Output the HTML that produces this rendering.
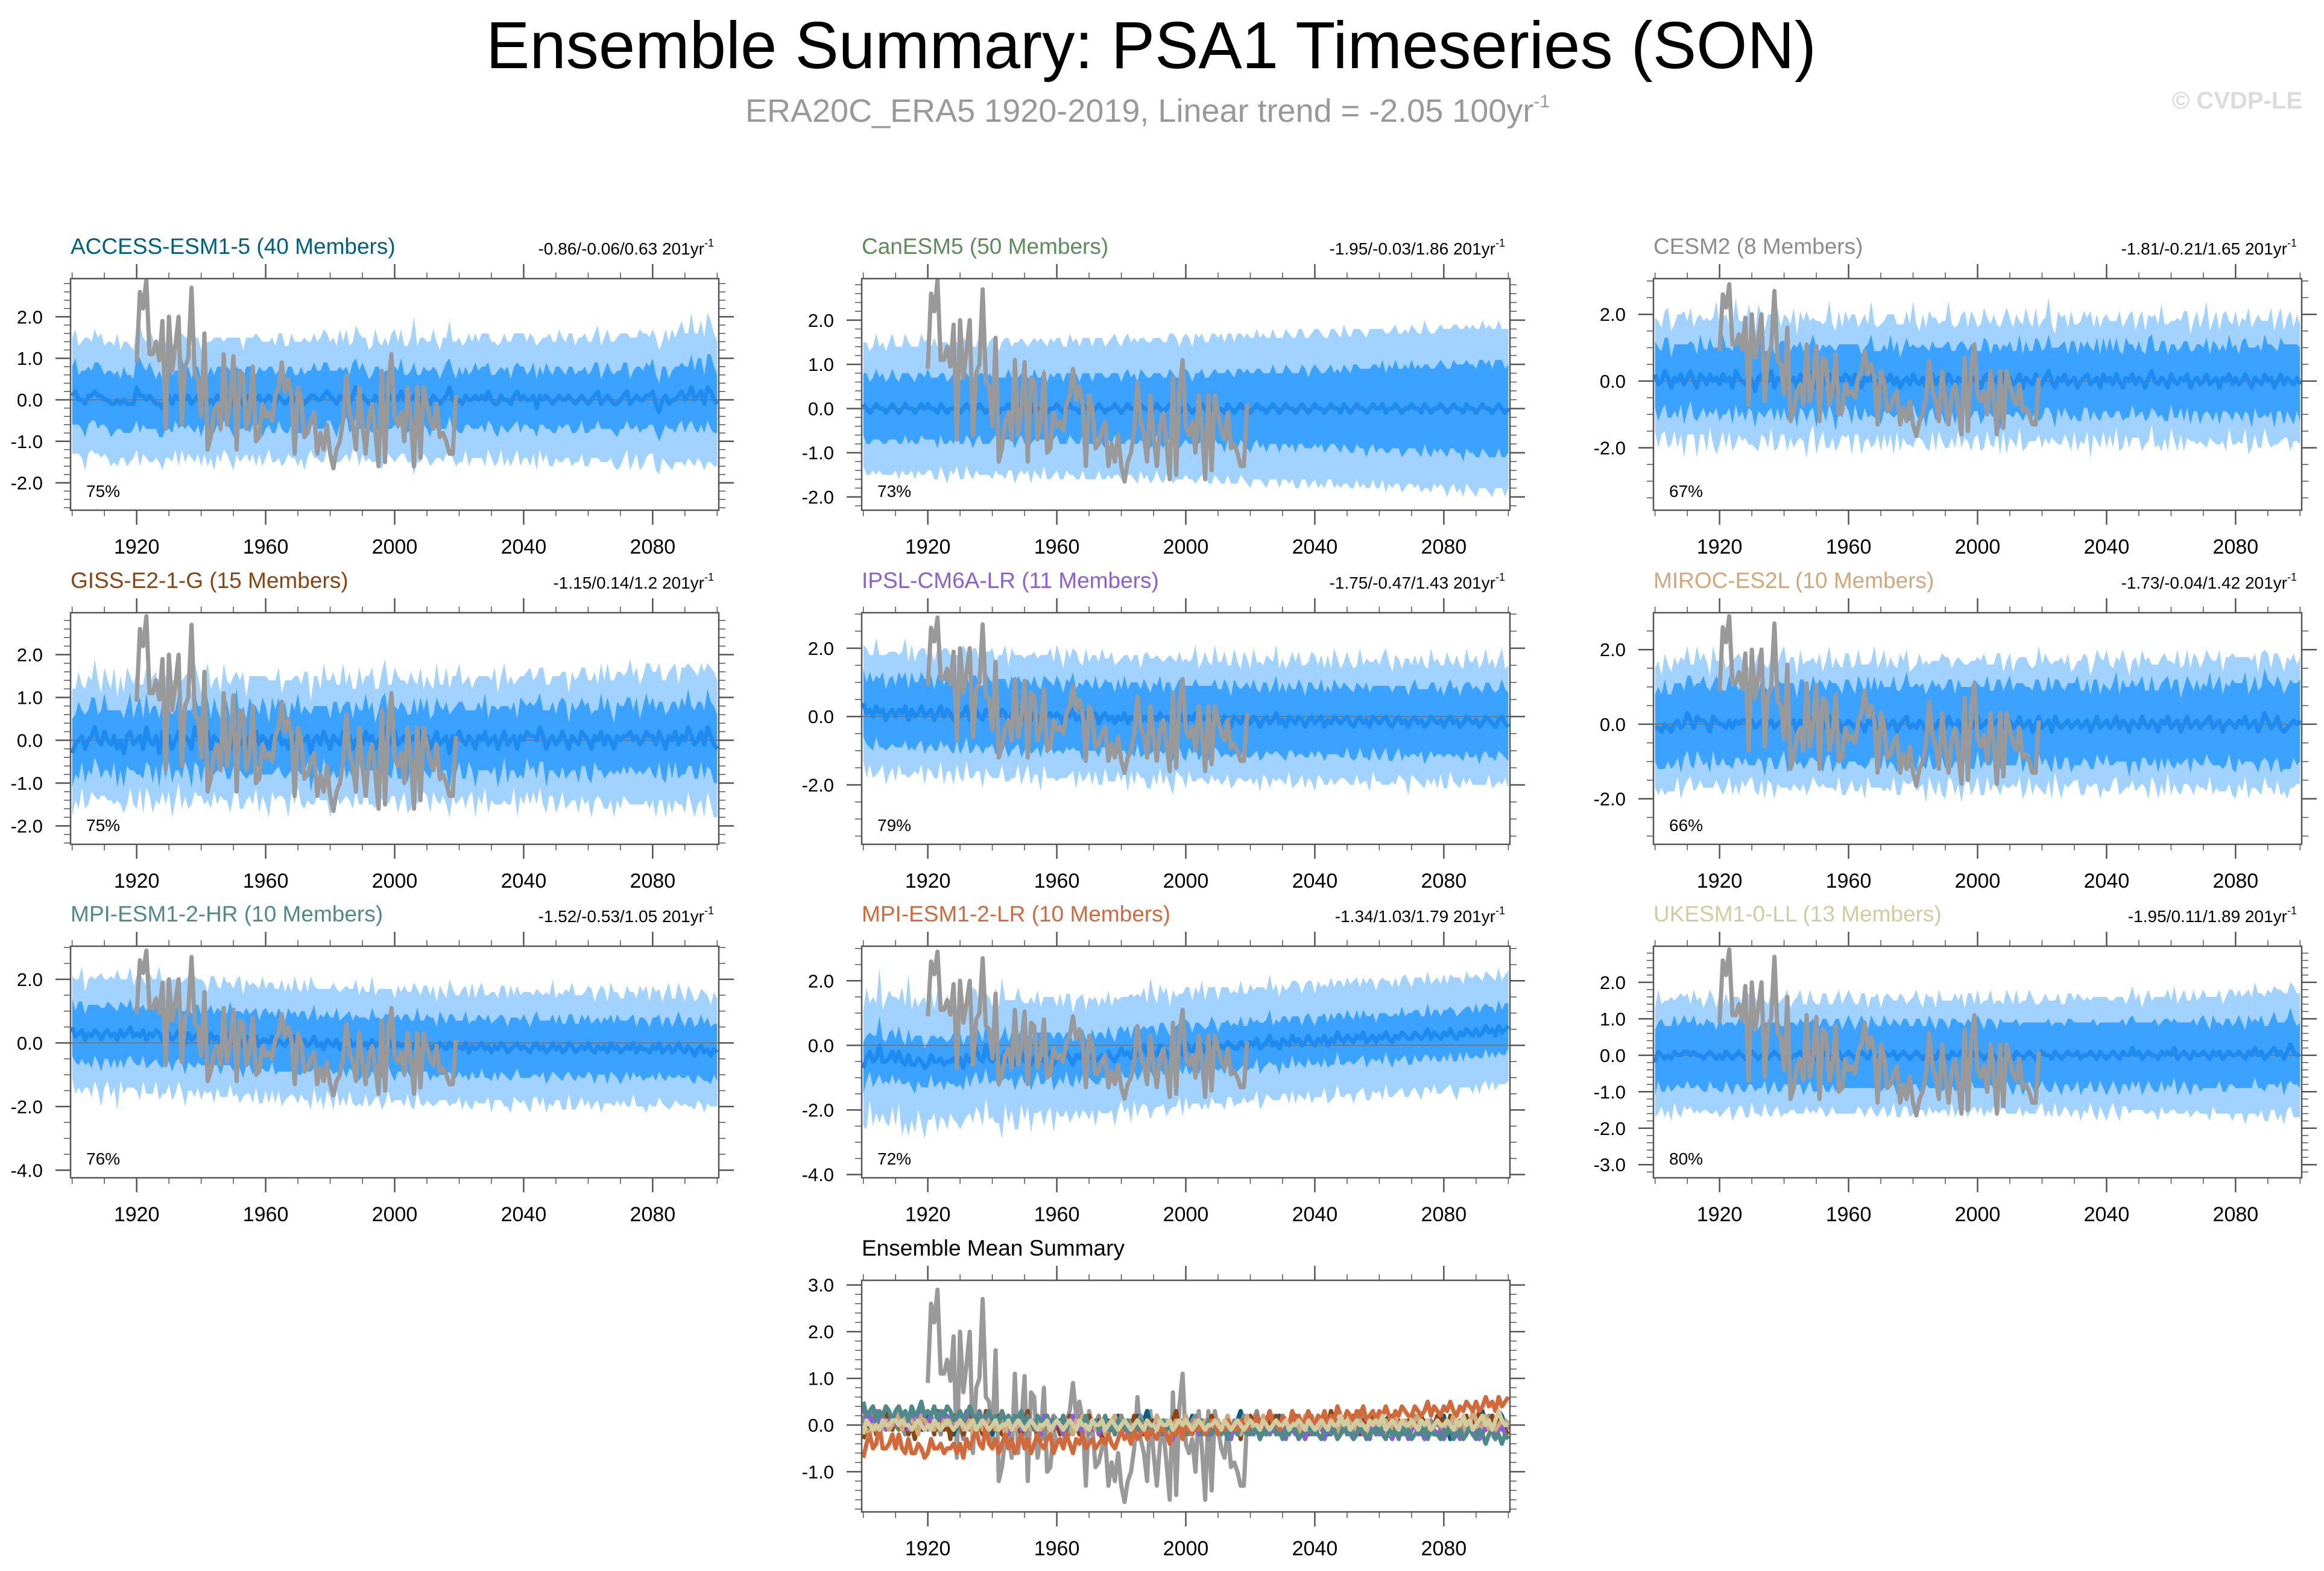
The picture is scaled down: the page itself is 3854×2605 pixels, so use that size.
<!DOCTYPE html>
<html>
<head>
<meta charset="utf-8">
<style>
html,body{margin:0;padding:0;background:#fff;}
svg{display:block;font-family:"Liberation Sans",Arial,sans-serif;}
</style>
</head>
<body>
<svg id="fig" width="3854" height="2605" viewBox="0 0 3854 2605" xmlns="http://www.w3.org/2000/svg">
  <rect x="0" y="0" width="3854" height="2605" fill="#ffffff"/>
  <text x="1909" y="113" font-size="110" text-anchor="middle" textLength="2206" lengthAdjust="spacingAndGlyphs" fill="#000">Ensemble Summary: PSA1 Timeseries (SON)</text>
  <text x="1903" y="202" font-size="54" text-anchor="middle" fill="#999">ERA20C_ERA5 1920-2019, Linear trend = -2.05 100yr<tspan dy="-24" font-size="30">-1</tspan></text>
  <text x="3818" y="180" font-size="40" font-weight="bold" text-anchor="end" fill="#dcdcdc">© CVDP-LE</text>
  <g id="panels"></g>
</svg>
<script>
// ---- Data (values in tenths unless noted) ----
const firstYear = 1900;
const obsStartYear = 1920;
const obsValues = [0.9,2.6,2.2,2.9,1.1,1.1,1.4,0.95,1.9,-0.7,2.0,0.7,1.3,2.0,-0.6,0.8,1.0,2.7,0.6,0.5,-0.4,1.6,-1.2,-0.9,-0.3,-0.1,-0.7,1.1,-0.6,0.0,1.05,-1.2,0.7,0.6,-0.7,-0.3,0.8,-1.0,-0.9,-0.1,-0.4,-0.3,-0.5,0.1,0.3,0.9,0.2,0.5,0.1,-1.3,0.3,0.0,-0.9,-0.8,-0.5,-0.3,-1.3,-0.8,-1.2,-0.6,-1.3,-1.65,-1.2,-1.0,-0.5,0.6,-0.3,-0.6,-1.2,0.3,-0.6,-1.3,-0.4,-0.1,-0.8,-1.6,0.7,-1.5,0.4,1.1,-0.4,-0.6,-0.3,-1.0,0.3,-0.5,-1.6,0.3,-1.4,0.3,-0.1,-0.5,-0.7,-0.1,-0.9,-0.8,-1.0,-1.3,-1.3,0.1];

const accessMean = [1,2,0,0,-1,1,1,2,1,1,0,0,-1,-1,0,-1,0,-1,-1,-1,3,1,1,0,1,0,-1,-1,-2,0,1,-1,1,0,2,0,1,-1,0,1,-2,0,-1,0,-1,1,0,1,1,0,-1,1,0,-1,1,0,1,0,1,-1,0,1,0,-1,1,0,-1,0,1,0,-1,0,-1,0,1,1,0,0,1,2,1,0,-1,1,0,2,-1,1,3,0,1,0,-1,-1,1,0,-2,1,0,1,1,0,2,0,-1,0,1,-1,0,1,0,-1,1,0,-1,0,1,3,0,-1,0,-1,1,0,0,1,0,1,0,2,0,-1,-1,1,0,0,-1,1,2,0,1,0,0,1,-2,1,0,1,0,-1,0,1,0,0,1,0,-1,0,1,0,-1,0,1,2,-1,0,1,0,-1,-1,0,1,2,-1,0,1,0,0,1,1,2,-1,-3,0,1,-1,0,0,1,2,0,1,3,0,1,2,-1,3,2,0,-1];
const accessInner = [7,8,6,7,8,7,6,7,8,7,6,7,8,7,7,6,8,7,7,6,8,9,7,7,8,7,6,8,7,7,8,7,6,7,8,7,7,6,8,7,7,6,7,8,7,7,8,6,7,7,8,7,7,6,7,8,7,6,7,8,7,7,8,7,6,7,7,8,7,6,7,8,7,7,6,8,7,7,8,7,6,7,8,7,7,6,7,8,7,7,8,7,6,7,7,8,7,6,7,8,7,7,8,6,7,7,8,7,6,7,7,8,7,7,6,7,8,7,7,6,8,7,7,6,7,8,7,7,8,7,6,7,8,7,7,8,6,7,7,8,7,6,7,8,7,7,6,8,7,7,8,7,7,6,7,8,7,7,6,8,7,7,8,7,6,7,8,7,7,8,7,8,7,6,7,7,8,7,8,7,8,7,7,8,7,6,7,8,7,7,8,7,8,7,9,8,7,8,9,8,7];
const accessOuter = [14,15,13,14,16,14,13,15,14,15,13,14,15,14,16,13,14,15,14,13,15,17,14,14,16,15,13,14,15,14,15,14,13,16,14,15,14,13,15,14,14,13,15,14,16,14,15,13,14,15,16,14,15,13,14,15,14,16,14,15,14,13,15,14,15,16,14,13,15,14,15,14,16,14,13,15,14,15,16,14,13,15,14,16,14,15,14,13,15,16,14,15,13,14,16,14,15,14,13,15,16,14,15,13,14,15,19,14,15,14,14,15,16,14,13,15,14,16,14,15,15,14,13,16,14,15,14,15,16,14,14,15,14,13,16,14,15,15,14,16,15,14,16,14,15,13,15,14,16,15,14,16,15,14,15,16,14,15,14,16,15,14,15,16,14,15,16,14,15,16,16,15,14,16,15,14,17,16,15,14,15,16,15,14,16,15,17,15,16,17,16,15,18,16,15,17,16,18,17,16,15];

const canMean = [1,0,-1,0,1,0,0,-1,0,1,0,-1,0,1,0,0,-1,0,1,0,1,0,0,-1,1,0,-1,0,0,1,-1,0,1,0,-1,0,1,0,-1,0,0,1,-1,0,0,1,0,-1,0,1,0,0,-1,1,0,0,1,-1,0,0,1,0,-1,0,1,0,0,-1,1,0,0,-1,0,1,0,-1,0,0,1,0,-1,0,1,0,0,-1,1,0,0,-1,0,1,0,-1,0,1,0,0,-1,0,1,0,-1,0,0,1,0,-1,0,1,0,0,-1,1,0,-1,0,1,0,0,-1,0,1,0,0,-1,0,1,0,-1,0,1,0,0,-1,0,1,0,-1,0,1,0,0,-1,0,1,0,0,-1,1,0,-1,0,1,0,0,-1,0,1,0,0,1,-1,0,0,1,0,-1,0,0,1,0,0,-1,1,0,-1,0,0,1,0,-1,0,1,0,0,-1,1,0,0,-1,0,1,0,0,-1,0,1,0,-1,0];
const canInner = [7,8,7,7,8,7,8,7,7,8,7,7,8,7,8,7,7,8,7,7,8,7,7,8,7,8,7,7,8,7,7,8,7,7,8,7,7,8,7,8,7,7,8,7,7,8,7,8,7,7,8,7,7,8,7,7,8,7,8,7,7,8,7,8,7,7,8,7,7,8,8,7,8,7,8,8,7,8,7,8,7,8,8,7,8,7,8,8,7,8,8,7,8,8,7,8,8,7,8,8,8,8,7,8,8,8,7,8,8,8,8,8,9,8,8,8,9,8,8,9,9,8,8,9,8,9,8,9,8,9,8,9,9,8,9,8,9,9,8,9,9,9,8,9,9,9,8,9,9,9,9,9,10,9,9,9,10,9,9,10,9,10,9,10,9,10,9,10,10,9,10,9,10,10,9,10,10,9,10,10,10,10,9,10,10,10,11,10,10,10,10,11,10,10,11,10,11,10,11,10,10];
const canOuter = [14,15,14,14,16,14,15,14,15,16,14,15,14,16,15,14,15,14,16,15,15,14,16,15,14,15,16,14,15,14,15,16,14,15,15,14,16,15,14,15,16,15,14,15,16,15,14,16,15,15,15,14,16,15,15,16,14,15,16,15,15,16,15,14,16,15,16,15,15,16,16,15,16,15,16,15,15,16,16,15,15,16,16,15,16,16,15,16,15,16,16,15,16,16,15,16,17,16,15,16,16,16,15,17,16,16,15,16,17,16,16,17,16,16,17,16,17,16,16,17,17,16,17,16,17,17,16,17,16,17,16,17,17,16,17,18,17,16,17,17,17,18,17,17,16,17,18,17,17,18,17,17,18,17,18,17,17,18,17,18,18,17,18,17,18,18,17,18,18,17,18,18,17,18,19,18,18,17,18,18,18,19,18,18,19,18,19,18,18,19,19,18,19,18,19,19,18,19,18,19,18];

const cesmMean = [2,-1,0,3,1,-2,1,0,2,-1,1,3,0,-2,2,1,-1,2,0,1,-1,2,0,1,-2,3,1,0,-1,2,0,-3,1,2,-1,0,3,-2,1,0,2,-1,0,1,-2,2,0,-1,1,3,-2,0,1,-1,2,0,-3,1,0,2,1,-1,2,0,-2,1,0,2,-1,0,-2,1,0,2,-1,1,-2,0,1,-1,2,0,-1,1,-2,0,2,-1,1,0,-1,2,0,-2,1,0,2,-1,0,1,0,-2,1,2,-1,0,1,-3,2,0,1,-1,0,2,-2,1,0,-1,2,0,-1,1,3,0,-2,1,0,2,-1,0,1,-2,0,1,2,-1,0,1,-2,2,0,1,-1,2,0,-2,1,0,2,-1,1,0,-2,1,3,0,-1,1,0,-2,2,0,-1,1,0,2,-2,0,1,-1,0,2,-1,0,1,-2,1,0,2,-1,1,-1,0,2,0,-2,1,0,-1,2,0,1,-2,0,2,-1,1,0,-1,1,-1];
const cesmInner = [10,11,9,10,12,9,10,11,9,12,10,9,11,10,12,9,10,11,10,9,11,12,10,9,11,10,12,9,11,10,9,11,10,12,10,9,11,10,9,12,10,11,9,10,12,10,9,11,10,11,12,9,10,11,9,10,12,10,11,9,10,12,9,11,10,9,11,12,10,9,11,10,9,12,10,11,9,10,12,11,9,10,11,10,12,9,10,11,9,10,12,10,9,11,10,12,9,10,11,10,9,11,12,10,9,11,10,12,9,10,11,10,9,12,10,11,9,10,11,12,10,9,11,10,12,9,11,10,9,12,11,10,12,9,10,11,9,12,10,11,9,12,10,11,9,10,12,11,9,10,11,9,10,12,11,9,10,11,12,10,9,11,10,9,12,10,11,9,10,12,10,11,9,12,10,11,10,9,12,11,10,9,12,11,10,12,9,11,10,12,11,10,12,9,11,12,10,11,12,10,11];
const cesmOuter = [17,19,16,18,21,17,16,20,18,22,17,19,16,21,18,17,20,16,19,23,18,17,20,16,19,22,17,18,16,21,19,17,22,18,16,20,17,19,21,16,18,20,17,21,16,19,18,22,17,16,20,18,16,19,22,17,18,20,16,19,17,21,18,16,20,19,17,22,18,16,19,17,20,18,21,16,19,17,20,18,22,17,16,19,18,21,17,20,16,18,19,22,17,18,16,20,19,17,21,18,16,19,21,17,18,20,16,19,17,22,18,17,20,16,19,21,18,17,20,16,19,18,22,17,16,20,19,18,17,21,16,19,18,20,17,22,16,19,18,17,20,17,19,16,21,18,17,20,19,16,18,21,17,19,16,20,18,22,17,19,16,18,20,17,21,19,16,18,20,17,19,22,16,18,20,17,19,21,16,18,20,17,19,16,22,18,17,20,19,16,18,21,17,19,20,16,18,21,17,19,18];

const gissMean = [-3,-1,0,1,-2,0,1,3,0,-1,2,0,-1,1,-2,0,-3,1,2,-1,0,1,-2,3,0,-1,1,-3,2,0,1,-2,0,2,-1,1,0,-2,3,1,-1,0,2,-2,1,0,-1,2,0,-2,1,3,-1,0,-2,1,0,2,-1,1,0,-2,1,0,2,-1,0,-2,1,0,2,-1,0,1,-3,0,1,-1,2,0,-2,1,0,-1,2,0,1,-2,0,1,-1,2,0,1,-2,0,1,3,-1,0,2,-1,0,1,-2,0,1,-1,2,0,1,-2,0,2,-1,0,1,-3,1,0,2,0,-1,1,0,-2,1,0,2,-1,0,1,-2,0,2,-1,0,1,-2,1,0,2,1,1,0,3,1,-2,0,1,-1,0,2,0,-2,1,0,-1,2,1,0,-2,1,0,2,-1,1,0,-2,1,0,1,1,2,0,1,-1,0,2,1,1,-1,2,0,-2,1,0,2,-1,1,0,3,1,-1,0,2,-1,3,1,-1,-2];
const gissInner = [8,7,9,6,8,7,9,7,6,8,9,7,8,6,9,7,8,7,9,6,8,9,7,8,6,9,7,8,7,9,6,8,7,9,8,6,7,9,8,7,9,6,8,7,9,7,6,8,9,7,7,9,6,8,7,9,8,6,7,9,8,6,9,7,8,7,9,6,8,7,9,7,8,6,9,8,7,9,6,8,7,8,9,7,6,9,8,7,9,6,8,9,7,8,6,7,9,8,7,9,6,8,9,7,8,6,9,7,8,7,9,7,6,8,9,7,8,9,6,8,7,9,8,6,7,9,8,7,9,6,8,7,9,8,6,9,7,8,7,9,9,6,8,7,9,8,6,9,7,8,7,9,8,9,6,8,7,9,8,7,9,8,6,7,9,8,9,7,6,8,8,7,9,8,7,9,6,8,9,7,9,8,7,9,8,6,9,7,8,9,8,9,7,8,9,7,8,9,8,9,8];
const gissOuter = [15,13,16,12,14,15,13,16,14,12,15,14,13,16,12,15,14,16,13,14,16,12,15,14,13,16,15,12,14,15,13,16,14,12,15,14,16,13,15,14,12,15,16,14,13,15,12,16,14,15,14,13,15,16,12,14,15,13,16,14,15,16,13,14,15,12,14,16,13,15,13,14,16,15,12,15,14,13,16,14,16,15,13,14,16,13,15,14,12,16,14,13,15,16,14,12,15,16,14,13,15,16,14,13,15,16,13,14,15,12,14,15,12,16,14,13,16,15,14,15,16,13,15,14,12,16,14,15,13,16,14,16,13,15,16,14,15,12,16,14,15,14,16,13,15,14,16,15,13,14,16,15,14,16,13,15,14,16,15,16,14,16,15,13,16,15,17,14,16,15,16,14,15,17,15,16,14,15,16,17,15,17,16,14,16,15,17,16,14,16,17,15,16,17,15,16,17,15,16,17,16];

const ipslMean = [4,1,2,0,3,1,2,-1,1,2,0,2,1,3,-1,2,0,1,3,0,1,2,-1,1,3,0,2,1,-1,2,0,1,3,-1,1,2,0,-1,2,1,1,-1,0,2,1,-2,1,0,2,-1,0,2,-1,1,0,-2,2,0,1,-1,1,0,-2,1,0,2,-1,0,-2,1,0,-1,1,-2,0,1,-1,0,-2,0,-1,1,-2,0,-1,1,-2,0,-1,-2,0,-1,1,-2,0,-1,-3,0,1,-1,-2,0,-1,1,-2,-1,0,-2,-1,1,-1,-2,0,-1,-3,0,-1,-2,0,-1,-2,0,-1,-3,-1,0,-2,-1,1,-2,-1,-3,0,-1,-2,0,-1,-3,-1,0,-2,-1,0,-3,-1,-2,0,-1,-2,-1,0,-2,-3,-1,0,-2,-1,-3,0,-1,-2,-1,0,-2,-3,-1,0,-2,-1,-3,-1,0,-2,-1,-3,-2,0,-1,-2,-1,-3,-1,0,-2,-1,-3,-2,0,-1,-2,-1,-3,-2,0,-1,-2,-3,-1,0,-2,-3];
const ipslInner = [10,9,11,10,9,10,11,9,10,10,9,11,10,10,9,11,10,9,10,11,10,10,9,11,10,9,10,11,10,9,11,10,9,10,11,10,9,10,11,10,9,10,11,9,10,10,11,9,10,11,10,9,10,11,9,10,10,11,9,10,11,10,9,10,10,11,9,10,11,10,10,9,11,10,9,10,11,10,9,11,9,11,10,10,11,9,10,11,10,9,10,10,11,9,10,11,10,9,10,11,11,9,10,10,11,10,9,11,10,10,9,10,11,10,9,11,10,10,9,11,10,11,9,10,11,10,9,10,11,9,11,10,10,9,10,11,10,9,11,10,10,9,11,10,10,9,11,10,10,11,9,10,10,11,9,10,11,10,9,10,11,10,9,11,10,10,9,11,10,9,10,11,10,9,11,10,10,11,9,10,9,10,11,10,10,9,11,10,11,10,10,11,9,10,11,10,10,9,11,10,10];
const ipslOuter = [17,19,16,18,20,17,16,19,18,17,19,16,18,20,17,19,16,18,17,20,16,18,17,19,16,20,18,17,19,16,18,20,16,17,19,18,16,20,17,18,19,17,18,16,20,17,19,18,16,19,17,16,19,18,17,20,16,18,19,17,20,18,16,19,17,18,20,16,17,19,16,19,17,18,20,16,18,19,17,16,18,17,20,16,19,17,16,18,20,19,17,19,16,18,17,19,20,16,18,17,19,16,18,20,16,17,19,18,16,20,17,18,19,16,18,20,17,16,19,18,16,20,17,19,16,18,19,17,20,16,18,17,16,20,18,19,16,18,17,19,20,16,18,17,19,16,20,18,16,17,19,18,17,16,20,17,18,19,16,18,17,19,20,18,16,19,17,16,18,20,16,18,17,19,18,16,20,17,19,16,18,20,16,17,19,18,16,20,17,18,19,17,18,20,16,19,17,18,20,16,18];

const mirocMean = [-1,-1,-2,0,-1,-2,0,1,-1,0,3,1,-1,2,1,1,0,-2,2,1,0,0,-1,1,-1,1,0,1,1,0,1,-1,0,1,-2,0,1,-1,0,1,2,-1,0,1,-2,1,0,-1,0,2,0,1,-1,0,2,-1,0,1,-2,0,1,0,-1,1,0,-2,1,0,2,-1,0,1,-1,0,1,-2,0,1,2,-1,0,-1,1,0,-2,1,0,-1,1,0,-1,2,0,-1,1,-2,0,1,-1,0,2,-1,0,1,-1,0,1,0,-1,0,1,-1,0,2,-1,0,1,-2,0,2,-1,0,1,-2,2,0,-1,0,1,-1,0,1,-1,0,1,-2,0,2,-1,0,1,-1,0,2,-1,1,0,-2,1,0,-1,2,0,-1,1,0,-2,1,0,2,-1,0,1,-2,0,2,-1,0,1,-1,0,1,2,-1,0,1,-2,0,1,0,-1,1,0,2,-1,0,1,-2,0,3,1,-1,0,2,-1,-2,-1,0,1,0,1];
const mirocInner = [9,11,10,12,9,10,11,10,12,9,10,12,11,9,10,12,10,11,9,12,11,9,10,12,11,10,9,12,10,11,12,10,9,11,12,9,10,11,12,10,9,12,11,10,9,11,12,10,9,11,10,11,12,9,10,12,11,9,10,12,11,10,9,12,11,10,12,9,11,10,12,9,11,10,12,11,9,10,12,11,10,12,9,11,10,9,12,11,10,9,11,10,12,9,11,12,10,9,11,12,9,11,10,12,10,9,11,12,10,11,12,10,11,9,12,10,9,11,12,10,10,9,12,11,10,12,11,9,10,12,11,12,10,9,11,10,12,10,9,11,9,10,11,12,9,11,10,12,11,10,12,11,9,10,12,9,11,10,12,11,10,12,11,9,10,11,12,9,11,10,11,9,12,10,11,12,10,11,9,12,12,10,11,12,9,10,12,11,10,12,11,12,10,11,12,10,11,12,10,11,11];
const mirocOuter = [16,18,15,19,17,16,18,15,19,17,18,15,17,19,16,18,17,15,19,16,17,19,16,15,18,17,19,16,18,15,15,17,19,16,18,15,17,19,16,18,19,16,18,17,15,19,16,18,17,16,16,18,15,17,19,16,18,15,17,19,18,15,17,19,16,18,15,17,19,16,17,19,16,18,15,17,19,16,18,15,15,17,18,16,19,15,17,18,16,19,19,16,15,18,17,19,16,15,18,17,16,18,19,15,17,16,18,19,15,17,18,15,17,16,19,18,15,17,16,19,17,19,16,18,15,17,19,16,18,15,15,16,18,19,17,15,16,18,19,17,19,17,15,16,18,19,17,15,16,18,16,18,17,19,15,16,18,17,19,15,18,16,19,17,16,18,16,19,17,16,17,19,16,18,17,19,16,18,17,19,19,17,18,16,19,17,18,16,19,17,18,16,19,17,18,16,19,17,18,16,17];

const mpihrMean = [5,2,3,4,1,3,2,4,3,1,3,4,2,3,1,4,2,3,5,2,3,2,4,1,3,2,4,3,1,2,3,1,2,4,2,0,3,1,2,3,1,2,0,3,1,2,0,2,1,3,0,2,1,-1,2,1,0,2,-1,1,1,0,2,-1,1,0,-1,1,0,2,-1,0,1,-1,0,2,-1,0,-2,1,0,-1,1,-2,0,-1,1,-1,0,-2,-1,0,-2,1,-1,0,-2,-1,1,-1,-2,0,-1,-1,0,-2,-1,1,-2,-1,0,-2,-1,-3,0,-1,-2,0,-1,-2,-1,-2,0,-3,-1,-2,-1,0,-2,-1,-3,-1,-2,0,-1,-3,-2,-1,0,-2,-1,-2,-3,-1,0,-2,-1,-3,-2,0,-2,-1,-3,-2,0,-1,-3,-2,-1,-2,0,-2,-3,-1,-2,-1,-3,0,-2,-1,-3,-2,-1,-2,0,-3,-1,-2,-2,-3,-1,-2,0,-3,-2,-1,-3,-2,0,-2,-3,-1,-2,-4,-2,-1,-3,-2,-4,-2,-3];
const mpihrInner = [9,8,10,9,8,9,10,8,9,10,8,9,10,8,9,9,10,8,9,8,10,9,8,9,10,8,9,10,9,8,9,10,8,9,8,10,9,8,10,9,8,9,10,9,8,9,10,9,8,10,9,8,9,10,9,8,10,9,8,9,10,9,8,9,10,9,8,10,9,8,9,10,9,8,9,10,8,9,10,9,8,9,10,9,8,10,9,8,9,10,9,8,9,10,9,8,9,10,8,9,10,9,8,10,9,9,8,10,9,8,9,10,9,8,10,9,8,9,10,9,8,9,10,9,8,9,10,8,9,10,9,8,10,9,9,8,10,9,8,9,10,9,8,9,10,9,8,10,9,9,8,10,9,8,9,10,9,8,10,9,9,8,10,9,8,9,10,9,8,10,10,9,8,10,9,8,9,10,9,8,9,10,9,8,10,9,8,9,10,9,8,9,10,9,8,10,9,10,9,8,9];
const mpihrOuter = [16,18,17,20,15,17,19,16,18,21,17,16,19,17,22,16,18,17,19,16,18,20,16,17,19,18,16,21,17,18,16,19,18,16,17,20,18,16,19,17,19,17,16,18,20,16,17,19,18,16,17,18,20,16,18,17,19,16,18,20,16,19,17,18,16,20,17,18,16,19,18,16,19,17,21,16,18,17,19,16,17,20,16,18,17,19,16,18,20,17,19,16,18,20,16,17,19,18,16,18,16,18,17,19,16,18,20,16,17,19,18,17,19,16,18,17,16,20,18,17,16,19,18,17,20,16,18,19,17,16,19,17,16,18,19,17,20,16,18,17,17,18,19,16,17,18,16,19,17,20,16,17,18,19,16,20,18,17,16,18,18,19,16,17,20,18,16,19,18,17,17,16,19,18,16,17,19,18,20,16,19,18,17,16,18,20,17,16,19,18,16,19,18,17,16,18,19,17,16,18,17];

const mpilrMean = [-7,-4,-2,-5,-4,0,-5,-5,-4,-2,-5,-2,-5,-6,-3,-6,-6,-4,-5,-7,-6,-3,-5,-5,-4,-6,-5,-5,-4,-6,-4,-7,-3,-5,-3,-1,-4,-5,0,-4,-5,-3,-6,-4,-2,-5,-3,-6,-4,-2,-5,-3,-6,-4,-2,-4,-5,-3,-2,-6,-4,-3,-5,-2,-4,-6,-3,-4,-2,-5,-4,-3,-5,-4,-3,-4,-2,-4,-5,-3,-1,-3,-2,-4,-1,-3,-2,0,-3,-1,-2,-3,0,-1,-2,-4,-1,-2,0,-3,1,-1,-2,0,-1,0,-2,-1,1,0,-2,0,-1,1,0,-1,-1,1,0,-1,1,0,2,-1,0,1,3,0,1,-1,2,1,0,3,1,2,0,1,3,1,0,2,1,3,0,2,1,4,2,1,3,2,1,3,2,4,1,2,3,1,3,2,4,2,1,3,2,4,3,2,2,4,3,2,3,5,2,4,3,2,4,3,5,3,2,4,3,5,4,3,5,3,4,6,4,5,3,6,4,5,6];
const mpilrInner = [8,7,6,8,7,9,7,6,8,7,7,8,7,6,8,7,9,7,8,6,7,6,8,7,7,8,6,7,8,7,8,7,6,8,7,7,8,6,7,8,6,8,7,7,8,6,7,8,7,7,7,6,8,7,6,8,7,7,6,8,8,7,7,6,8,7,6,8,7,7,6,8,7,8,7,6,8,7,6,8,7,7,8,6,7,8,7,6,8,7,8,6,7,8,7,7,6,8,7,6,7,8,6,7,8,6,7,7,8,7,6,7,8,7,6,8,7,8,6,7,8,7,6,8,7,7,8,6,7,8,7,8,7,6,8,7,6,8,7,7,6,7,8,7,7,8,7,6,8,7,8,7,7,8,6,7,8,7,7,6,7,8,6,7,8,7,7,8,6,8,8,7,8,7,6,8,7,7,8,7,7,8,7,8,7,6,8,7,8,7,8,7,8,7,8,7,7,8,7,8,7];
const mpilrOuter = [18,22,15,20,17,24,16,19,21,17,20,16,23,18,25,17,21,16,19,22,17,20,16,22,18,17,21,16,19,18,22,17,19,16,21,18,17,20,16,19,17,21,18,25,16,19,17,20,22,16,18,16,21,17,19,16,20,18,17,21,16,19,17,18,20,16,17,19,18,16,19,17,20,16,18,17,19,16,20,17,16,18,17,20,16,19,17,18,16,22,18,16,19,17,20,16,18,17,16,19,17,19,16,18,17,20,16,19,17,18,16,18,19,17,16,18,17,19,16,17,18,17,16,19,18,16,19,17,18,16,17,16,18,17,19,17,16,18,17,19,16,18,17,16,18,19,17,16,18,17,18,17,19,18,16,17,18,19,17,16,17,19,16,18,17,18,16,17,19,18,16,17,18,19,16,18,17,16,18,17,18,16,17,18,19,17,16,18,17,18,17,18,16,17,18,16,17,18,16,17,17];

const ukesmMean = [-2,1,0,-1,0,-1,1,0,0,1,1,0,1,0,0,-1,0,1,0,-1,0,-1,1,0,-1,0,1,0,-1,0,1,0,-1,0,1,-1,0,1,0,-1,0,1,-1,0,0,1,-1,0,1,0,-1,0,1,0,-1,0,0,1,-1,0,1,0,-1,0,1,0,-1,1,0,0,-1,1,0,0,1,-1,0,1,0,-1,0,1,0,-1,0,1,0,-1,1,0,0,-1,1,0,0,1,-1,0,1,0,1,0,-1,0,1,0,-1,0,0,1,0,-1,1,0,-1,0,1,0,-1,0,1,0,0,-1,1,0,-1,0,1,0,0,1,-1,0,0,1,0,-1,1,0,-1,0,1,0,-1,1,0,0,2,0,1,-1,0,1,0,0,-1,1,0,1,0,2,-1,0,1,0,-1,1,0,0,1,0,-1,1,0,1,-1,0,1,0,0,1,0,-1,1,0,2,0,1,-1,0,1,2,0,1,-1,1,3,1,0,0];
const ukesmInner = [9,8,10,9,8,9,10,8,9,10,8,9,10,8,9,9,10,8,9,8,10,9,8,9,10,8,9,10,9,8,9,10,8,9,8,10,9,8,10,9,8,9,10,9,8,9,10,9,8,10,9,8,9,10,9,8,10,9,8,9,10,9,8,9,10,9,8,10,9,8,9,10,9,8,9,10,8,9,10,9,8,9,10,9,8,10,9,8,9,10,9,8,9,10,9,8,9,10,8,9,10,9,8,10,9,9,8,10,9,8,9,10,9,8,10,9,8,9,10,9,8,9,10,9,8,9,10,8,9,10,9,8,10,9,9,8,10,9,8,9,10,9,8,9,10,9,8,10,9,9,8,10,9,8,9,10,9,8,10,9,9,8,10,9,8,9,10,9,8,10,10,9,8,10,9,8,9,10,9,8,9,10,9,8,10,9,8,9,10,9,8,9,10,9,8,10,9,10,9,8,9];
const ukesmOuter = [15,17,14,16,15,17,14,16,17,15,16,14,17,15,16,14,15,17,16,14,17,15,16,14,17,16,15,14,16,17,14,16,15,17,14,15,17,16,14,16,16,17,14,15,16,17,15,14,17,15,15,14,16,17,15,14,16,17,15,16,17,16,15,14,16,17,14,15,16,17,14,15,17,16,14,16,17,15,14,16,16,17,15,14,17,15,16,14,17,15,15,16,14,17,15,16,14,17,16,14,17,14,16,15,17,14,16,15,14,17,16,15,17,14,16,15,17,16,15,14,14,17,15,16,14,17,15,14,16,17,15,16,17,15,16,14,16,17,15,16,17,15,14,16,17,15,14,16,17,15,16,14,16,17,15,16,17,15,16,17,15,17,15,16,17,15,16,17,15,16,17,16,17,15,16,17,15,16,17,18,16,17,16,18,17,16,18,17,16,17,18,16,17,18,17,18,16,17,18,17,17];

// ---- Layout ----
const colLeft = [117, 1429, 2742];
const rowTop = [462, 1016, 1569, 2123];
const boxW = 1075, boxH = 384;
const xMin = 1899.5, xMax = 2100.5;

const panels = [
  {key:'access', title:'ACCESS-ESM1-5 (40 Members)', color:'#00617f', stat:'-0.86/-0.06/0.63', pct:'75%', col:0, row:0, ymin:-2.66, ymax:2.92, ticks:[-2,-1,0,1,2], minor:0.2, mean:accessMean, inner:accessInner, outer:accessOuter},
  {key:'canesm5', title:'CanESM5 (50 Members)', color:'#5b8c5a', stat:'-1.95/-0.03/1.86', pct:'73%', col:1, row:0, ymin:-2.3, ymax:2.94, ticks:[-2,-1,0,1,2], minor:0.2, mean:canMean, inner:canInner, outer:canOuter},
  {key:'cesm2', title:'CESM2 (8 Members)', color:'#8c8c8c', stat:'-1.81/-0.21/1.65', pct:'67%', col:2, row:0, ymin:-3.87, ymax:3.07, ticks:[-2,0,2], minor:0.5, mean:cesmMean, inner:cesmInner, outer:cesmOuter},
  {key:'giss', title:'GISS-E2-1-G (15 Members)', color:'#8b4513', stat:'-1.15/0.14/1.2', pct:'75%', col:0, row:1, ymin:-2.43, ymax:2.98, ticks:[-2,-1,0,1,2], minor:0.2, mean:gissMean, inner:gissInner, outer:gissOuter},
  {key:'ipsl', title:'IPSL-CM6A-LR (11 Members)', color:'#8a5fd8', stat:'-1.75/-0.47/1.43', pct:'79%', col:1, row:1, ymin:-3.74, ymax:3.04, ticks:[-2,0,2], minor:0.5, mean:ipslMean, inner:ipslInner, outer:ipslOuter},
  {key:'miroc', title:'MIROC-ES2L (10 Members)', color:'#d2a77a', stat:'-1.73/-0.04/1.42', pct:'66%', col:2, row:1, ymin:-3.22, ymax:2.99, ticks:[-2,0,2], minor:0.5, mean:mirocMean, inner:mirocInner, outer:mirocOuter},
  {key:'mpihr', title:'MPI-ESM1-2-HR (10 Members)', color:'#4f8a8b', stat:'-1.52/-0.53/1.05', pct:'76%', col:0, row:2, ymin:-4.24, ymax:3.04, ticks:[-4,-2,0,2], minor:0.5, mean:mpihrMean, inner:mpihrInner, outer:mpihrOuter},
  {key:'mpilr', title:'MPI-ESM1-2-LR (10 Members)', color:'#d2693a', stat:'-1.34/1.03/1.79', pct:'72%', col:1, row:2, ymin:-4.1, ymax:3.07, ticks:[-4,-2,0,2], minor:0.5, mean:mpilrMean, inner:mpilrInner, outer:mpilrOuter},
  {key:'ukesm', title:'UKESM1-0-LL (13 Members)', color:'#d0cca0', stat:'-1.95/0.11/1.89', pct:'80%', col:2, row:2, ymin:-3.36, ymax:2.99, ticks:[-3,-2,-1,0,1,2], minor:0.2, mean:ukesmMean, inner:ukesmInner, outer:ukesmOuter}
];
const summary = {key:'summary', title:'Ensemble Mean Summary', col:1, row:3, ymin:-1.86, ymax:3.1, ticks:[-1,0,1,2,3], minor:0.2};
const xMajor = [1920,1960,2000,2040,2080];

const NS = 'http://www.w3.org/2000/svg';
const root = document.getElementById('panels');
function mk(tag, attrs, parent){
  const el = document.createElementNS(NS, tag);
  for (const k in attrs) el.setAttribute(k, attrs[k]);
  (parent||root).appendChild(el);
  return el;
}

function drawFrame(p, g, L, T){
  const xs = y => L + (y - xMin) / (xMax - xMin) * boxW;
  const ys = v => T + (p.ymax - v) / (p.ymax - p.ymin) * boxH;
  const start = Math.ceil(p.ymin / p.minor - 1e-6), end = Math.floor(p.ymax / p.minor + 1e-6);
  for (let k = start; k <= end; k++){
    const v = k * p.minor;
    const isMajor = p.ticks.some(t => Math.abs(t - v) < 1e-6);
    const len = isMajor ? 25 : 11;
    const yy = ys(v);
    const t1 = mk('line', {x1:L-len, y1:yy, x2:L, y2:yy, stroke:'#555', 'stroke-width':isMajor?2.5:1.5}, g);
    
    
    const t2 = mk('line', {x1:L+boxW, y1:yy, x2:L+boxW+len, y2:yy, stroke:'#555', 'stroke-width':isMajor?2.5:1.5}, g);
    
    
  }
  p.ticks.forEach(t => {
    const lb = mk('text', {x:L-46, y:ys(t)+11, 'font-size':31, 'text-anchor':'end', fill:'#000'}, g);
    lb.textContent = t.toFixed(1);
    
    
  });
  for (let yr = 1900; yr <= 2100; yr += 10){
    const isMajor = xMajor.indexOf(yr) >= 0;
    const len = isMajor ? 24 : 10;
    const xx = xs(yr);
    const a = mk('line', {x1:xx, y1:T-len, x2:xx, y2:T, stroke:'#555', 'stroke-width':isMajor?2.5:1.5}, g);
    
    
    const b = mk('line', {x1:xx, y1:T+boxH, x2:xx, y2:T+boxH+len, stroke:'#555', 'stroke-width':isMajor?2.5:1.5}, g);
    
    
  }
  xMajor.forEach(yr => {
    const lb = mk('text', {x:xs(yr), y:T+boxH+72, 'font-size':34, 'text-anchor':'middle', fill:'#000'}, g);
    lb.textContent = String(yr);
    
    
  });
  return {xs, ys};
}

function linePath(vals, start, scale, xs, ys){
  let d = '';
  vals.forEach((v, i) => { d += (i ? 'L' : 'M') + xs(start + i).toFixed(1) + ',' + ys(v * scale).toFixed(1); });
  return d;
}

function bandPath(mean, width, xs, ys){
  const n = Math.min(mean.length, width.length);
  let up = '', dn = '';
  for (let i = 0; i < n; i++) up += (i ? 'L' : 'M') + xs(firstYear + i).toFixed(1) + ',' + ys((mean[i] + width[i]) / 10).toFixed(1);
  for (let i = n - 1; i >= 0; i--) dn += 'L' + xs(firstYear + i).toFixed(1) + ',' + ys((mean[i] - width[i]) / 10).toFixed(1);
  return up + dn + 'Z';
}

panels.forEach(p => {
  const L = colLeft[p.col], T = rowTop[p.row];
  const g = mk('g', {});
  
  
  const cp = mk('clipPath', {id:'clip-' + p.key}, g);
  mk('rect', {x:L, y:T, width:boxW, height:boxH}, cp);
  const title = mk('text', {x:L, y:T-41, 'font-size':37, fill:p.color}, g);
  title.textContent = p.title;
  
  
  const st = mk('text', {x:L+boxW-8, y:T-40, 'font-size':28, 'text-anchor':'end', fill:'#000'}, g);
  st.textContent = p.stat + ' 201yr';
  const sup = mk('tspan', {dy:-13, 'font-size':18}, st);
  sup.textContent = '-1';
  
  
  const sc = drawFrame(p, g, L, T);
  const plot = mk('g', {'clip-path':'url(#clip-' + p.key + ')'}, g);
  const outer = mk('path', {d:bandPath(p.mean, p.outer, sc.xs, sc.ys), fill:'#a2d2ff', stroke:'none'}, plot);
  
  
  const inner = mk('path', {d:bandPath(p.mean, p.inner, sc.xs, sc.ys), fill:'#3ba2ff', stroke:'none'}, plot);
  
  
  const zl = mk('line', {x1:L, y1:sc.ys(0), x2:L+boxW, y2:sc.ys(0), stroke:'#777', 'stroke-width':2}, plot);
  
  
  const ml = mk('path', {d:linePath(p.mean, firstYear, 0.1, sc.xs, sc.ys), fill:'none', stroke:'#1f8bf0', 'stroke-width':7, 'stroke-linejoin':'round'}, plot);
  
  
  const ob = mk('path', {d:linePath(obsValues, obsStartYear, 1, sc.xs, sc.ys), fill:'none', stroke:'#999', 'stroke-width':7, 'stroke-linejoin':'round'}, plot);
  
  
  const box = mk('rect', {x:L, y:T, width:boxW, height:boxH, fill:'none', stroke:'#555', 'stroke-width':2.5}, g);
  
  
  const pc = mk('text', {x:L+26, y:T+boxH-22, 'font-size':28, fill:'#000'}, g);
  pc.textContent = p.pct;
  
  
});

(function(){
  const p = summary;
  const L = colLeft[p.col], T = rowTop[p.row];
  const g = mk('g', {});
  
  
  const cp = mk('clipPath', {id:'clip-summary'}, g);
  mk('rect', {x:L, y:T, width:boxW, height:boxH}, cp);
  const title = mk('text', {x:L, y:T-41, 'font-size':37, fill:'#000'}, g);
  title.textContent = p.title;
  
  
  const sc = drawFrame(p, g, L, T);
  const plot = mk('g', {'clip-path':'url(#clip-summary)'}, g);
  const zl = mk('line', {x1:L, y1:sc.ys(0), x2:L+boxW, y2:sc.ys(0), stroke:'#777', 'stroke-width':2}, plot);
  
  
  const ob = mk('path', {d:linePath(obsValues, obsStartYear, 1, sc.xs, sc.ys), fill:'none', stroke:'#999', 'stroke-width':7, 'stroke-linejoin':'round'}, plot);
  
  
  panels.forEach(m => {
    const ln = mk('path', {d:linePath(m.mean, firstYear, 0.1, sc.xs, sc.ys), fill:'none', stroke:m.color, 'stroke-width':7, 'stroke-linejoin':'round'}, plot);
    
    
  });
  const box = mk('rect', {x:L, y:T, width:boxW, height:boxH, fill:'none', stroke:'#555', 'stroke-width':2.5}, g);
  
  
})();
</script>
</body>
</html>
